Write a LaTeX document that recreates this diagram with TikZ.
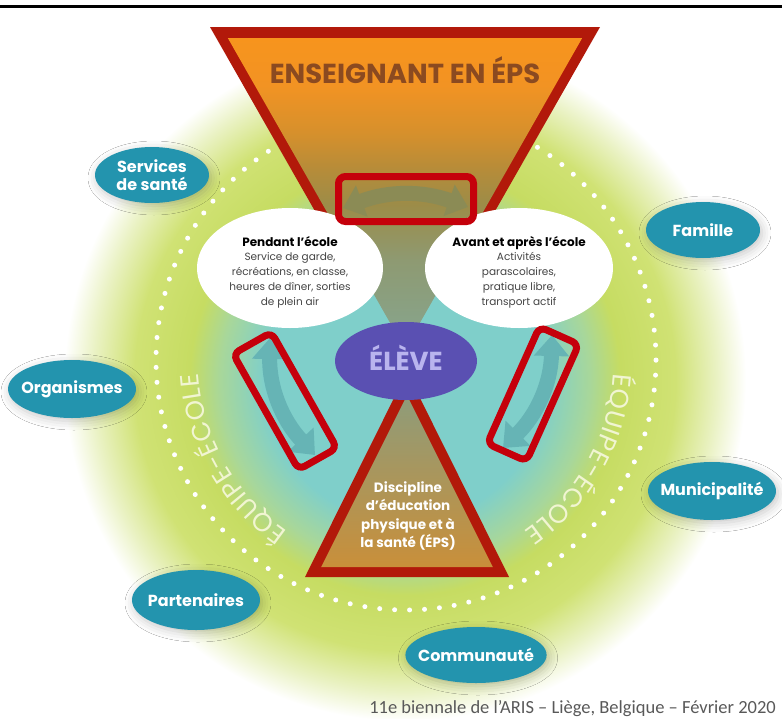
\documentclass[tikz,border=0pt]{standalone}
\usepackage{fontspec}
\setmainfont{Poppins}
\newfontfamily\footfont{Carlito}
\newfontfamily\equipefont{Poppins}[WordSpace={0.12,0,0}]
\usetikzlibrary{shapes.geometric,arrows.meta,decorations.text,shadows.blur}

\definecolor{glteal}{HTML}{7FCFCA}
\definecolor{glmid}{HTML}{A8D79A}
\definecolor{glgreen}{HTML}{C6DC62}
\definecolor{gllight}{HTML}{D0E274}
\definecolor{glpale}{HTML}{EAF2C4}
\definecolor{funA}{HTML}{F7941D}
\definecolor{funB}{HTML}{F29323}
\definecolor{funC}{HTML}{D6902C}
\definecolor{funD}{HTML}{B88C38}
\definecolor{funE}{HTML}{9C8C48}
\definecolor{funF}{HTML}{8E9A72}
\definecolor{funG}{HTML}{86A690}
\definecolor{triA}{HTML}{8E9C7A}
\definecolor{triB}{HTML}{A3864A}
\definecolor{triC}{HTML}{C98F3A}
\definecolor{eprred}{HTML}{B2190A}
\definecolor{annred}{HTML}{C5000B}
\definecolor{ensbrown}{HTML}{8B4A20}
\definecolor{elevecol}{HTML}{5A50B2}
\definecolor{elevetxt}{HTML}{B9B4EE}
\definecolor{satcol}{HTML}{2394AE}
\definecolor{graytxt}{HTML}{454545}
\definecolor{footgray}{HTML}{595959}
\definecolor{equipecol}{HTML}{F1F5D2}
\definecolor{toparr}{HTML}{8B8B55}
\definecolor{sidearr}{HTML}{66B4B5}

\pgfdeclareradialshading{glow}{\pgfpoint{0bp}{0bp}}{color(0bp)=(glteal); color(10.2bp)=(glteal); color(13.4bp)=(glmid); color(15.6bp)=(glgreen); color(19.6bp)=(gllight); color(22.6bp)=(glpale); color(24.7bp)=(white); color(50bp)=(white)}
\pgfdeclareverticalshading{funnel}{100bp}{color(0bp)=(funG); color(25bp)=(funG); color(39.3bp)=(funF); color(48.2bp)=(funE); color(54.3bp)=(funD); color(59.7bp)=(funC); color(67.4bp)=(funB); color(75bp)=(funA); color(100bp)=(funA)}

\newcommand{\equipestyle}{\equipefont\fontsize{26}{26}\selectfont\color{equipecol}}

\begin{document}
\begin{tikzpicture}[x=1pt,y=1pt,
  sat/.style={ellipse, fill=satcol, draw=none, text=white,
    font=\bfseries\fontsize{16}{18}\selectfont, align=center,
    inner xsep=-8pt, inner ysep=0pt,
    blur shadow={shadow xshift=2pt, shadow yshift=-3pt, shadow blur radius=9pt, shadow opacity=22}},
  whiteell/.style={ellipse, fill=white, draw=none, inner sep=0pt},
  elltext/.style={align=center, text=graytxt, font=\fontsize{10.5}{14.8}\selectfont},
  redbox/.style={rectangle, draw=annred, line width=7pt, rounded corners=7pt, inner sep=0pt},
  toparrow/.style={draw=toparr, line width=15pt, {Triangle[width=32pt,length=20pt]}-{Triangle[width=32pt,length=20pt]}},
  sidearrow/.style={draw=sidearr, line width=15pt, {Triangle[width=34pt,length=21pt]}-{Triangle[width=34pt,length=21pt]}}
]
\useasboundingbox (0,0) rectangle (782,-718);
\fill[white] (0,0) rectangle (782,-718);

% background glow
\begin{scope}
  \clip (0,0) rectangle (782,-718);
  \shade[shading=glow] (405,-380) circle[radius=345];
\end{scope}

% dotted circle
\draw[white, line width=5pt, dash pattern=on 0pt off 14.96pt, line cap=round] (406,-360) circle[radius=250];

% bottom triangle
\fill[eprred] (305,-577) -- (509,-577) -- (407,-372) -- cycle;
\shade[top color=triA, middle color=triB, bottom color=triC] (321.2,-567) -- (492.8,-567) -- (407,-395.4) -- cycle;

% top funnel
\fill[eprred] (210,-27) -- (600,-27) -- (475.7,-245) -- (334.3,-245) -- cycle;
\shade[shading=funnel] (227.8,-38) -- (582.2,-38) -- (405,-349) -- cycle;

% white ellipses
\node[whiteell, minimum width=186pt, minimum height=120pt] (pendant) at (290,-268) {};
\node[whiteell, minimum width=188pt, minimum height=120pt] (avant) at (519,-268) {};
\node[elltext] (pendant-t) at (290,-272) {{\bfseries\color{black}\fontsize{12}{14.8}\selectfont Pendant l’école}\\Service de garde,\\récréations, en classe,\\heures de dîner, sorties\\de plein air};
\node[elltext] (avant-t) at (519,-272) {{\bfseries\color{black}\fontsize{12}{14.8}\selectfont Avant et après l’école}\\Activités\\parascolaires,\\pratique libre,\\transport actif};

% eleve
\node[ellipse, fill=elevecol, minimum width=142pt, minimum height=78pt, inner sep=0pt] (eleve) at (406,-361) {};
\node[anchor=base, text=elevetxt, font=\bfseries\fontsize{26}{28}\selectfont] (eleve-t) at (406,-370) {ÉLÈVE};

% texts in trapezoid / triangle
\node[anchor=base, text=ensbrown, font=\bfseries\fontsize{27.5}{30}\selectfont] (ens) at (405,-83) {ENSEIGNANT EN ÉPS};
\node[align=center, text=white, font=\bfseries\fontsize{13.5}{18.5}\selectfont] (disc) at (408,-516) {Discipline\\d’éducation\\physique et à\\la santé (ÉPS)};

% equipe-ecole
\path[decorate, decoration={text along path, text align=center, text={|\equipestyle|É Q U I P E - É C O L E}}]
  ([shift={(406,-360)}]250:208) arc[start angle=250, end angle=169, radius=208];
\path[decorate, decoration={text along path, text align=center, text={|\equipestyle|É Q U I P E - É C O L E}}]
  ([shift={(406,-360)}]11:208) arc[start angle=11, end angle=-70, radius=208];

% satellites
\node[sat, minimum width=114pt, minimum height=56pt] (sante) at (152,-175) {Services\\de santé};
\node[sat, minimum width=128pt, minimum height=58pt] (org) at (72,-389) {Organismes};
\node[sat, minimum width=114pt, minimum height=56pt] (fam) at (703,-230) {Famille};
\node[sat, minimum width=128pt, minimum height=58pt] (muni) at (712,-491) {Municipalité};
\node[sat, minimum width=128pt, minimum height=60pt] (part) at (196,-600) {Partenaires};
\node[sat, minimum width=128pt, minimum height=56pt] (comm) at (476,-655) {Communauté};

% arrows
\coordinate (ta1) at (343,-208);
\coordinate (ta2) at (468,-207);
\draw[toparrow] (ta1) to[bend left=20] (ta2);
\coordinate (la1) at (270,-338);
\coordinate (la2) at (315,-455);
\draw[sidearrow] (la1) to[bend right=22] (la2);
\coordinate (ra1) at (552,-335);
\coordinate (ra2) at (503,-448);
\draw[sidearrow] (ra1) to[bend left=22] (ra2);

% annotation boxes
\node[redbox, minimum width=135pt, minimum height=45pt] (topbox) at (406,-199) {};
\node[redbox, minimum width=133pt, minimum height=44pt, rotate=-60.5] (leftbox) at (285,-401) {};
\node[redbox, minimum width=128pt, minimum height=43pt, rotate=65.9] (rightbox) at (533,-394) {};

% top rule and footer
\coordinate (rl) at (0,-6.6);
\coordinate (rr) at (782,-6.6);
\draw[line width=3.3pt, black] (rl) -- (rr);
\node[anchor=base east, text=footgray, font=\footfont\fontsize{18.5}{20}\selectfont, inner sep=0pt] (foot) at (776,-713) {11e biennale de l’ARIS – Liège, Belgique – Février 2020};
\end{tikzpicture}
\end{document}
